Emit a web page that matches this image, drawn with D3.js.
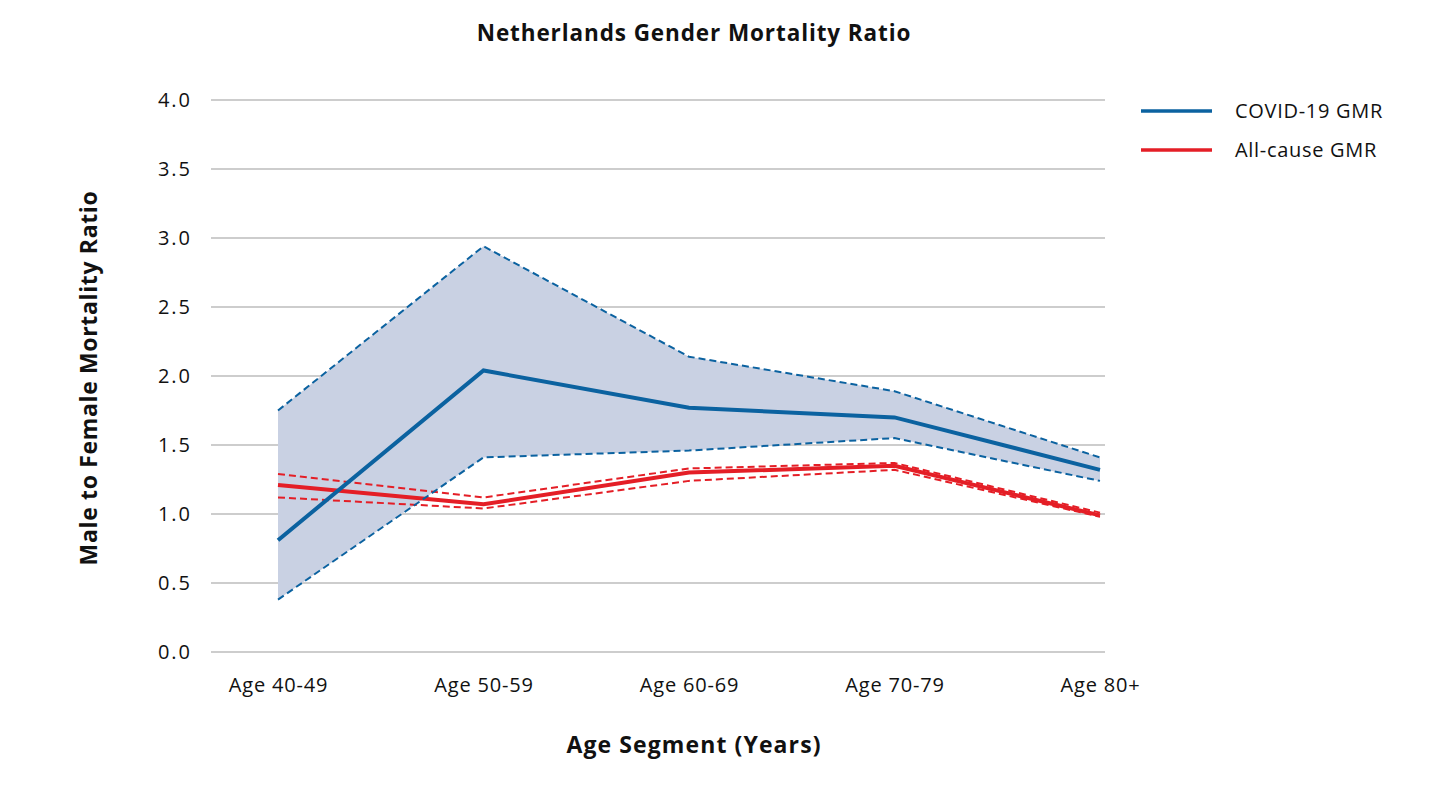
<!DOCTYPE html>
<html><head><meta charset="utf-8">
<script src="https://cdn.jsdelivr.net/npm/d3@7"></script>
<style>body{margin:0;background:#fff;} text{font-family:"Open Sans",sans-serif;fill:#111;}</style>
</head><body>
<svg id="c" width="1437" height="809"></svg>
<script>
const categories = ["Age 40-49","Age 50-59","Age 60-69","Age 70-79","Age 80+"];
const covidGMR   = [0.81, 2.04, 1.77, 1.70, 1.32];
const covidUpper = [1.75, 2.94, 2.14, 1.89, 1.41];
const covidLower = [0.38, 1.41, 1.46, 1.55, 1.24];
const allGMR     = [1.21, 1.07, 1.30, 1.35, 0.99];
const allUpper   = [1.29, 1.12, 1.33, 1.37, 1.01];
const allLower   = [1.12, 1.04, 1.24, 1.32, 0.98];
const yTicks = [0,0.5,1,1.5,2,2.5,3,3.5,4];
const seriesNames = ["COVID-19 GMR","All-cause GMR"];

const blue="#0b62a0", red="#e41e26", fill="#c9d1e3";
const svg=d3.select("#c");
const x=d3.scalePoint().domain(categories).range([278,1100]);
const y=d3.scaleLinear().domain([0,4]).range([652,100]);

// grid
svg.append("g").selectAll("line").data(yTicks).join("line")
  .attr("x1",211).attr("x2",1105).attr("y1",d=>y(d)).attr("y2",d=>y(d))
  .attr("stroke","#bdbdbd").attr("stroke-width",1.5);
const yAxis=d3.axisLeft(y).tickValues(yTicks).tickFormat(d3.format(".1f")).tickSize(0).tickPadding(0);
const gy=svg.append("g").attr("transform","translate(192,0)").call(yAxis);
gy.select(".domain").remove();
gy.selectAll("text").style("font-size","20px").style("letter-spacing","2px").style("font-family","Open Sans").attr("fill","#111");

const xAxis=d3.axisBottom(x).tickSize(0).tickPadding(0);
const gx=svg.append("g").attr("transform","translate(0,678)").call(xAxis);
gx.select(".domain").remove();
gx.selectAll("text").style("font-size","20px").style("letter-spacing","0.8px").style("font-family","Open Sans").attr("fill","#111");

const idx=categories.map((c,i)=>i);
// band
const area=d3.area().x(i=>x(categories[i])).y0(i=>y(covidLower[i])).y1(i=>y(covidUpper[i]));
svg.append("path").datum(idx).attr("d",area).attr("fill",fill);

function line(arr){return d3.line().x(i=>x(categories[i])).y(i=>y(arr[i]))(idx);}
[[allUpper,red],[allLower,red]].forEach(([a,c])=>svg.append("path").attr("d",line(a)).attr("fill","none").attr("stroke",c).attr("stroke-width",2).attr("stroke-dasharray","7,4"));
svg.append("path").attr("d",line(allGMR)).attr("fill","none").attr("stroke",red).attr("stroke-width",4);
[[covidUpper,blue],[covidLower,blue]].forEach(([a,c])=>svg.append("path").attr("d",line(a)).attr("fill","none").attr("stroke",c).attr("stroke-width",2).attr("stroke-dasharray","7,4"));
svg.append("path").attr("d",line(covidGMR)).attr("fill","none").attr("stroke",blue).attr("stroke-width",4);

// titles
svg.append("text").attr("x",694).attr("y",41).attr("text-anchor","middle").style("font-size","22.5px").style("letter-spacing","0.9px").style("font-weight","bold").text("Netherlands Gender Mortality Ratio");
svg.append("text").attr("x",694).attr("y",753).attr("text-anchor","middle").style("font-size","23px").style("letter-spacing","1.1px").style("font-weight","bold").text("Age Segment (Years)");
svg.append("text").attr("transform","translate(97,378) rotate(-90)").attr("text-anchor","middle").style("font-size","23px").style("letter-spacing","0.65px").style("font-weight","bold").text("Male to Female Mortality Ratio");

// legend
const lg=svg.append("g");
seriesNames.forEach((n,i)=>{
  const yy=111+i*39;
  lg.append("line").attr("x1",1141).attr("x2",1212).attr("y1",yy).attr("y2",yy).attr("stroke",i?red:blue).attr("stroke-width",3.5);
  lg.append("text").attr("x",1235).attr("y",yy).attr("dy","0.35em").style("font-size","20px").style("letter-spacing","0.7px").text(n);
});
</script></body></html>
